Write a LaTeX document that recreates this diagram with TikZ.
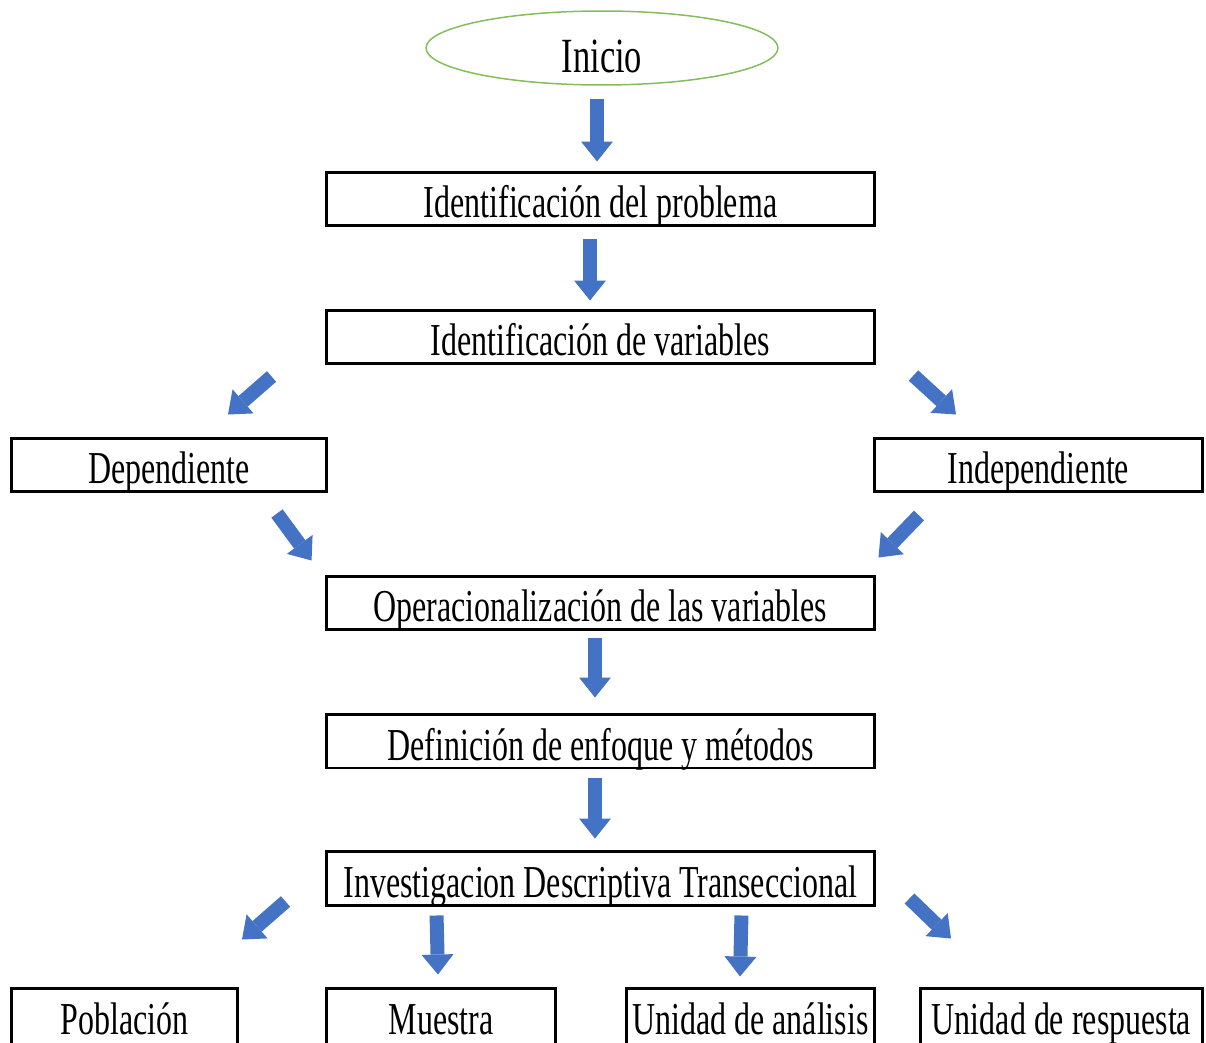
\documentclass[tikz,border=0pt]{standalone}
\usepackage{fontspec}
\setmainfont{Liberation Serif}[FakeStretch=0.7]
\usetikzlibrary{shapes.geometric,arrows.meta}

\definecolor{arrowblue}{RGB}{68,114,196}
\definecolor{startgreen}{RGB}{132,190,92}

\tikzset{
  stepbox/.style={draw, line width=0.06cm, inner sep=0pt, minimum height=1.08cm,
    text height=0.76cm, text depth=0cm, font=\fontsize{26}{30}\selectfont},
  endbox/.style={stepbox, minimum height=1.16cm, text height=0.68cm},
  startnode/.style={ellipse, draw=startgreen, line width=0.03cm, inner sep=0pt,
    minimum width=7.04cm, minimum height=1.48cm,
    text height=1.0cm, text depth=0cm, font=\fontsize{28}{32}\selectfont},
  bigarrow/.style={draw=arrowblue, line width=0.28cm,
    -{Triangle[width=0.64cm,length=0.4cm,line width=0pt]}},
}

\begin{document}
\begin{tikzpicture}[x=0.02cm, y=-0.02cm]
\useasboundingbox (0,0) rectangle (1206,1043);
\clip (0,0) rectangle (1206,1043);

% Start
\node[startnode] (inicio) at (602,48) {Inicio};

% Main column
\node[stepbox, minimum width=10.98cm] (prob) at (600.5,199) {Identificación del problema};
\node[stepbox, minimum width=10.98cm] (var) at (600.5,337) {Identificación de variables};
\node[stepbox, minimum width=10.98cm] (oper) at (600.5,603) {Operacionalización de las variables};
\node[stepbox, minimum width=10.98cm] (def) at (600.5,741) {Definición de enfoque y métodos};
\node[stepbox, minimum width=10.98cm] (inv) at (600.5,878) {Investigacion Descriptiva Transeccional};

% Variables
\node[stepbox, minimum width=6.32cm] (dep) at (169,465) {Dependiente};
\node[stepbox, minimum width=6.58cm] (indep) at (1038.5,465) {Independiente};

% Bottom row
\node[endbox, minimum width=4.54cm] (pob) at (124.5,1017) {Población};
\node[endbox, minimum width=4.6cm] (mue) at (441,1017) {Muestra};
\node[endbox, minimum width=4.98cm] (ana) at (750.5,1017) {Unidad de análisis};
\node[endbox, minimum width=5.66cm] (res) at (1061.5,1017) {Unidad de respuesta};

% Arrows
\draw[bigarrow] ([shift={(-5,13)}]inicio.south) -- ([shift={(-3.5,-9)}]prob.north);
\draw[bigarrow] ([shift={(-10.5,12)}]prob.south) -- ([shift={(-10.5,-8)}]var.north);
\draw[bigarrow] ([shift={(-53,11)}]var.south west) -- ([shift={(59,-22)}]dep.north);
\draw[bigarrow] ([shift={(37,10)}]var.south east) -- ([shift={(-82.5,-22)}]indep.north);
\draw[bigarrow] ([shift={(108,20)}]dep.south) -- ([shift={(-13,-14)}]oper.north west);
\draw[bigarrow] ([shift={(-119.5,22)}]indep.south) -- ([shift={(2,-17)}]oper.north east);
\draw[bigarrow] ([shift={(-5.5,7)}]oper.south) -- ([shift={(-5.5,-15)}]def.north);
\draw[bigarrow] ([shift={(-5.5,9)}]def.south) -- ([shift={(-5.5,-11)}]inv.north);
\draw[bigarrow] ([shift={(-39,-5)}]inv.south west) -- ([shift={(117.5,-47)}]pob.north);
\draw[bigarrow] ([shift={(112,9)}]inv.south west) -- ([shift={(-3,-12)}]mue.north);
\draw[bigarrow] ([shift={(-135,9)}]inv.south east) -- ([shift={(-10.5,-10)}]ana.north);
\draw[bigarrow] ([shift={(33,-8)}]inv.south east) -- ([shift={(-110.5,-48)}]res.north);

\end{tikzpicture}
\end{document}
